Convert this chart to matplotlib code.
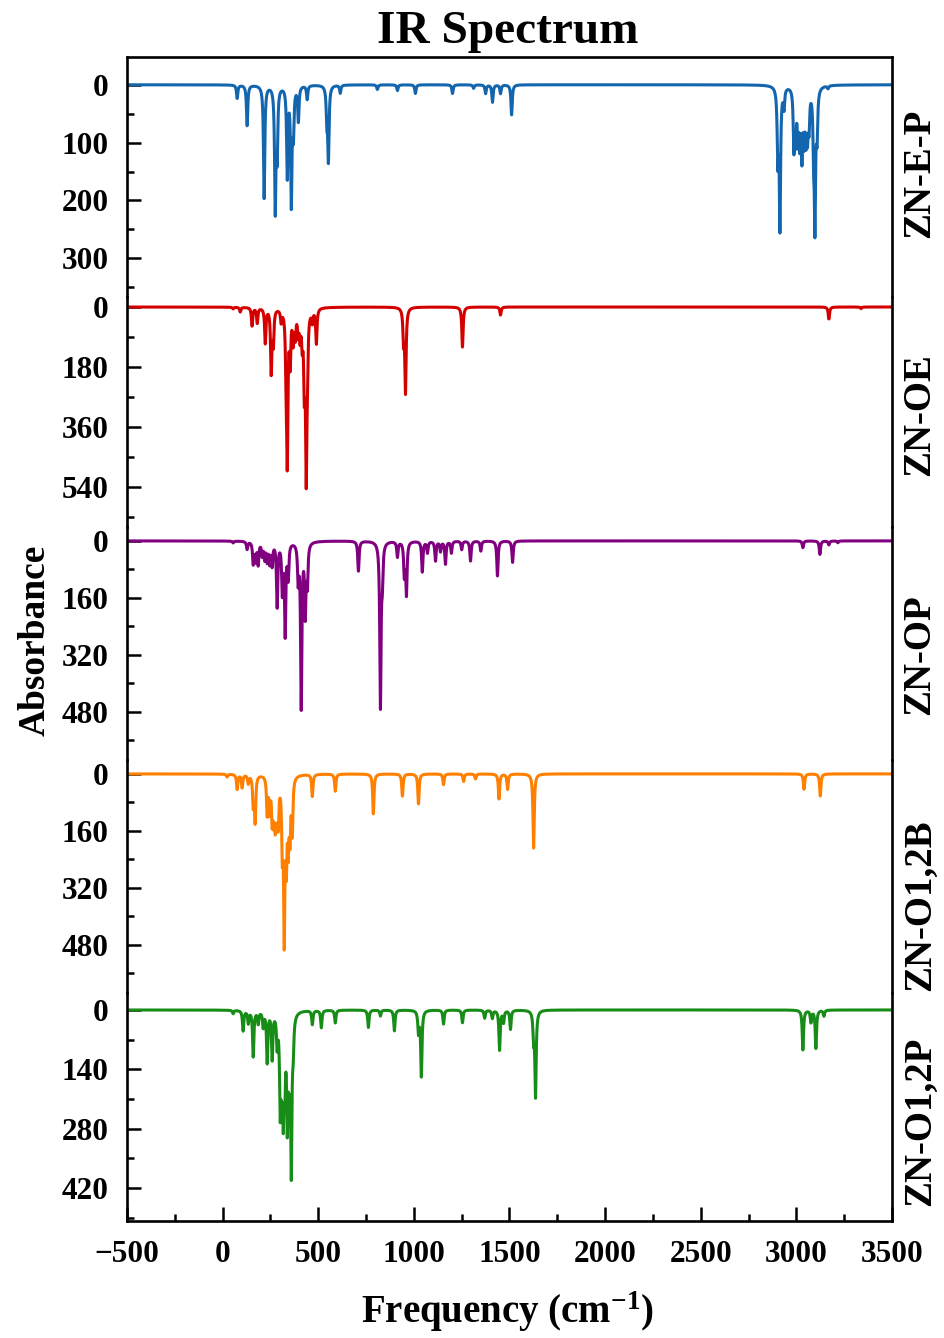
import numpy as np
import matplotlib
matplotlib.use("Agg")
import matplotlib.pyplot as plt
from matplotlib.ticker import MultipleLocator

plt.rcParams['font.family'] = ['Liberation Serif', 'DejaVu Serif']
plt.rcParams['font.weight'] = 'bold'
plt.rcParams['mathtext.fontset'] = 'custom'
plt.rcParams['mathtext.rm'] = 'Liberation Serif:bold'
plt.rcParams['mathtext.bf'] = 'Liberation Serif:bold'
plt.rcParams['mathtext.it'] = 'Liberation Serif:bold:italic'

# ---------------- data: peak positions (cm-1) and intensities
names = ["ZN-E-P", "ZN-OE", "ZN-OP", "ZN-O1,2B", "ZN-O1,2P"]
colors = ["#1366AE", "#D40000", "#800080", "#FF8000", "#178C17"]

ep_freq = [76, 128, 217, 275, 285, 338, 359, 370, 396, 442, 545, 553, 615, 809, 914, 1008,
           1202, 1312, 1375, 1411, 1453, 1511, 2903, 2914, 2935, 2987, 2996, 3008, 3018,
           3029, 3040, 3050, 3058, 3066, 3090, 3097, 3108, 3165]
ep_int = [23, 70, 195, 210, 110, 155, 200, 75, 60, 24, 55, 125, 14, 8, 10, 15,
          15, 6, 15, 30, 15, 52, 120, 240, 34, 100, 80, 80, 85,
          110, 80, 75, 70, 60, 90, 230, 75, 5]

oe_freq = [55, 92, 154, 181, 223, 254, 265, 306, 332, 338, 353, 369, 380, 395, 405, 416,
           427, 437, 443, 469, 490, 946, 956, 1254, 1453, 3170, 3338]
oe_int = [5, 14, 55, 46, 105, 190, 100, 36, 150, 430, 150, 90, 75, 65, 75, 85,
          210, 470, 125, 36, 105, 90, 250, 120, 24, 36, 5]

op_freq = [55, 128, 160, 172, 186, 207, 220, 233, 246, 259, 285, 312, 327, 343, 395, 411,
           432, 443, 710, 825, 835, 914, 950, 961, 1044, 1071, 1113, 1139, 1165, 1196,
           1250, 1296, 1350, 1437, 1516, 3034, 3123, 3170, 3217]
op_int = [5, 22, 60, 50, 62, 36, 45, 50, 55, 62, 180, 135, 255, 95, 100, 460,
          195, 110, 84, 460, 90, 43, 90, 145, 86, 32, 55, 28, 64, 33,
          24, 56, 28, 98, 60, 19, 38, 11, 5]

ob_freq = [23, 76, 102, 134, 160, 170, 233, 246, 259, 267, 275, 283, 291, 312, 322, 333,
           343, 352, 364, 469, 589, 788, 940, 1024, 1155, 1260, 1322, 1445, 1490, 1626,
           3040, 3125]
ob_int = [8, 42, 37, 24, 80, 128, 105, 90, 110, 95, 110, 95, 115, 180, 430, 210,
          170, 150, 150, 62, 48, 112, 62, 84, 30, 21, 14, 70, 43, 208,
          43, 62]

opp_freq = [55, 107, 134, 160, 186, 212, 233, 259, 285, 301, 309, 317, 325, 338, 348, 359,
            369, 469, 516, 589, 762, 825, 898, 1024, 1039, 1155, 1254, 1370, 1410, 1448,
            1469, 1505, 1626, 1636, 3034, 3076, 3102, 3144]
opp_int = [8, 48, 29, 108, 29, 36, 120, 110, 72, 210, 140, 205, 150, 240, 160, 360,
           65, 33, 41, 30, 41, 14, 49, 50, 155, 33, 30, 19, 19, 94,
           28, 45, 60, 200, 94, 28, 90, 14]

peak_freqs = [ep_freq, oe_freq, op_freq, ob_freq, opp_freq]
peak_ints = [ep_int, oe_int, op_int, ob_int, opp_int]

y_ticks = [[0, 100, 200, 300], [0, 180, 360, 540], [0, 160, 320, 480],
           [0, 160, 320, 480], [0, 140, 280, 420]]
y_lims = [(367, -48), (660, -30), (615, -39), (615, -39), (498, -40)]

# ---------------- layout (pixels)
W, H = 945, 1338
fig = plt.figure(figsize=(W / 100, H / 100), dpi=100)
left_px, right_px = 127, 892
bounds = [57, 297, 527, 760, 993, 1221]
label_y = [173, 415, 655, 905, 1121]

grid = np.linspace(-500, 3500, 8001)
fwhm = 8.0

def broaden(freqs, ints):
    g = (fwhm / 2.0) ** 2
    y = np.zeros_like(grid)
    for f, a in zip(freqs, ints):
        y += a * g / ((grid - f) ** 2 + g)
    return y

for i in range(5):
    top, bot = bounds[i], bounds[i + 1]
    ax = fig.add_axes([left_px / W, 1 - bot / H, (right_px - left_px) / W, (bot - top) / H])
    spec = broaden(peak_freqs[i], peak_ints[i])
    ax.plot(grid, spec, color=colors[i], lw=2.2)
    ax.set_xlim(-500, 3500)
    ax.set_ylim(*y_lims[i])
    ax.set_yticks(y_ticks[i])
    step = y_ticks[i][1] - y_ticks[i][0]
    ax.yaxis.set_minor_locator(MultipleLocator(step / 2))
    ax.tick_params(axis='y', which='major', direction='in', length=10, width=1.8,
                   labelsize=22.5, pad=13, right=False)
    ax.tick_params(axis='y', which='minor', direction='in', length=5, width=1.8, right=False)
    for lab in ax.get_yticklabels():
        lab.set_fontweight('bold')
    for s in ['left', 'right', 'top', 'bottom']:
        ax.spines[s].set_linewidth(1.9)
    ax.spines['top'].set_visible(i == 0)
    ax.spines['bottom'].set_visible(i == 4)
    ax.patch.set_alpha(0)
    if i < 4:
        ax.tick_params(axis='x', which='both', bottom=False, top=False, labelbottom=False)
    else:
        ax.set_xticks([-500, 0, 500, 1000, 1500, 2000, 2500, 3000, 3500])
        ax.xaxis.set_minor_locator(MultipleLocator(250))
        ax.tick_params(axis='x', which='major', direction='in', length=10, width=1.8,
                       labelsize=22.5, pad=14, top=False)
        ax.tick_params(axis='x', which='minor', direction='in', length=5, width=1.8, top=False)
        for lab in ax.get_xticklabels():
            lab.set_fontweight('bold')
    fig.text(920 / W, 1 - label_y[i] / H, names[i], rotation=90, ha='center', va='center',
             fontsize=28, fontweight='bold')

fig.text(508 / W, 1 - 32 / H, "IR Spectrum", ha='center', va='center', fontsize=34,
         fontweight='bold')
fig.text(508 / W, 1 - 1312 / H, r"Frequency (cm$^{-1}$)", ha='center', va='center',
         fontsize=28, fontweight='bold')
fig.text(35 / W, 1 - 640 / H, "Absorbance", rotation=90, ha='center', va='center',
         fontsize=27, fontweight='bold')

fig.savefig("out.png", dpi=100)
